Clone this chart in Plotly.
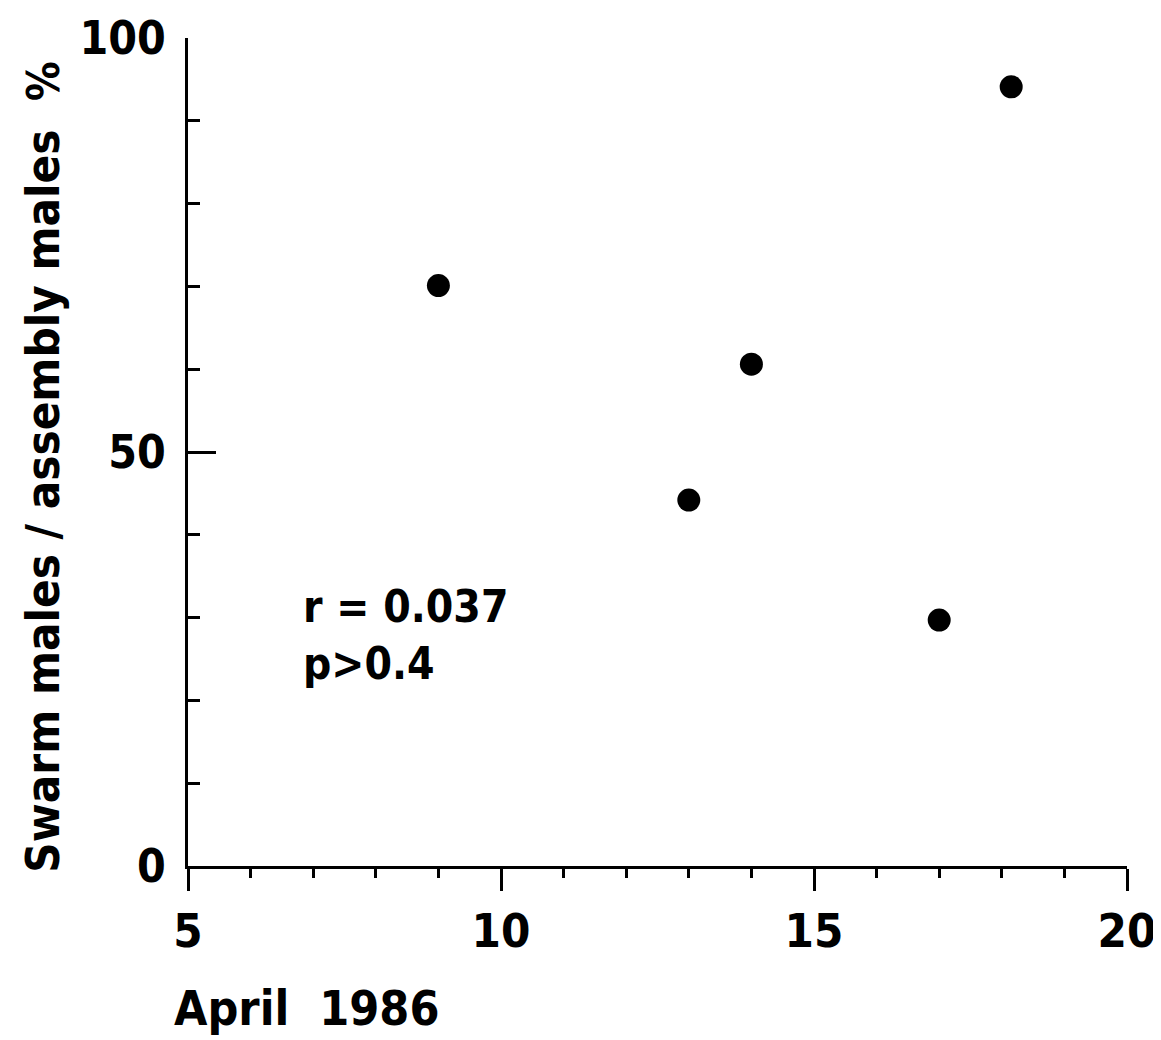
import plotly.graph_objects as go

days = [9.0, 13.0, 14.0, 17.0, 18.15]
ratio = [70.1, 44.2, 60.6, 29.7, 94.1]
x_ticks = [5, 10, 15, 20]
y_ticks = [0, 50, 100]

FONT = "DejaVu Sans Condensed, DejaVu Sans, sans-serif"

fig = go.Figure()
fig.add_trace(go.Scatter(x=days, y=ratio, mode="markers",
                         marker=dict(size=23, color="black"),
                         showlegend=False, cliponaxis=False))

fig.update_layout(
    width=1153, height=1032,
    margin=dict(l=180, r=34, t=30, b=174),
    paper_bgcolor="white", plot_bgcolor="white",
    font=dict(family=FONT, color="black"),
    xaxis=dict(range=[5, 20], tickvals=x_ticks, ticktext=[str(v) for v in x_ticks],
               automargin=False, ticklabeloverflow="allow",
               showgrid=False, zeroline=False, showline=True, linecolor="black", linewidth=3,
               ticks="outside", ticklen=22, tickwidth=3, tickcolor="black",
               tickfont=dict(size=47, family=FONT, weight="bold"),
               minor=dict(dtick=1, ticks="outside", ticklen=9, tickwidth=3, tickcolor="black", showgrid=False)),
    yaxis=dict(range=[0, 100], tickvals=y_ticks, ticktext=[str(v) for v in y_ticks],
               automargin=False, ticklabeloverflow="allow",
               showgrid=False, zeroline=False, showline=True, linecolor="black", linewidth=3,
               ticks="inside", ticklen=28, tickwidth=3, tickcolor="black",
               ticklabelstandoff=10,
               tickfont=dict(size=46, family=FONT, weight="bold"),
               minor=dict(dtick=10, ticks="inside", ticklen=12, tickwidth=3, tickcolor="black", showgrid=False)),
)

fig.add_annotation(text="April  1986", xref="paper", yref="paper", x=-0.017, y=-0.135,
                   xanchor="left", yanchor="top", showarrow=False,
                   font=dict(size=48, family=FONT, weight="bold"))
fig.add_annotation(text="Swarm males / assembly males", xref="paper", yref="paper",
                   x=-0.1544, y=0.44, textangle=-90, xanchor="center", yanchor="middle",
                   showarrow=False, font=dict(size=47, family=FONT, weight="bold"))
fig.add_annotation(text="%", xref="paper", yref="paper",
                   x=-0.1544, y=0.948, textangle=-90, xanchor="center", yanchor="middle",
                   showarrow=False, font=dict(size=44, family=FONT, weight="bold"))
fig.add_annotation(text="r = 0.037<br>p>0.4", xref="x", yref="y", x=6.8, y=34.7,
                   xanchor="left", yanchor="top", align="left", showarrow=False,
                   font=dict(size=44, family=FONT, weight="bold"))

fig.write_html("out.html")
